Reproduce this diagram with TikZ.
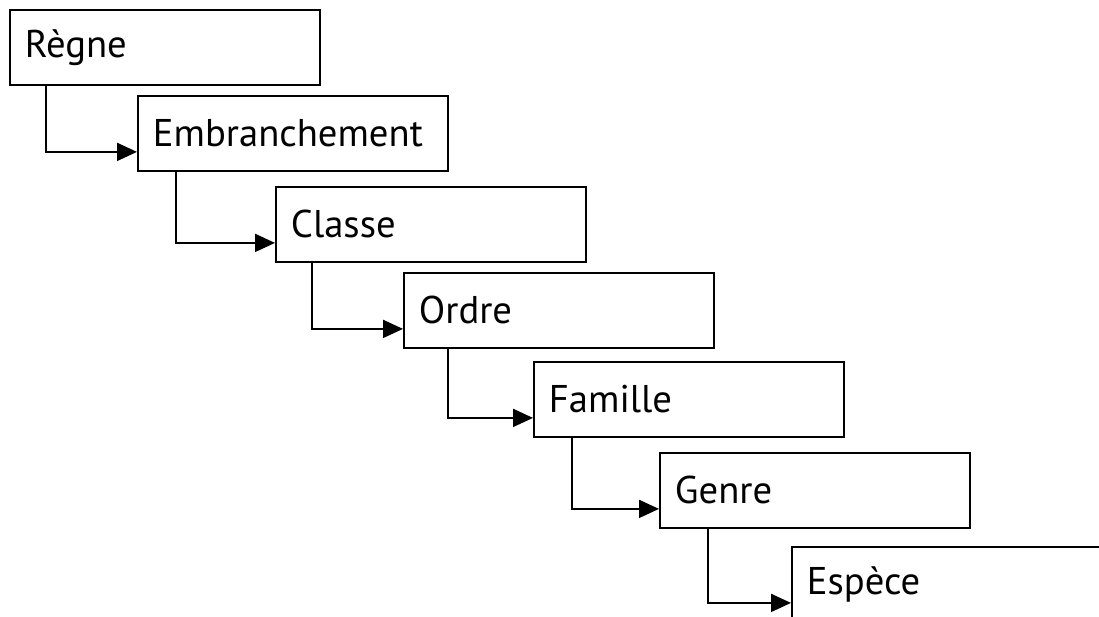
\documentclass[tikz,border=0pt]{standalone}
\usepackage{fontspec}
\setmainfont{PT Sans}
\usetikzlibrary{calc,arrows.meta}
\newcommand{\lr}{6.2cm}
\newcommand{\hr}{1.5cm}
\newcommand{\tr}{5.6cm}
\tikzstyle{rang}=[rectangle, line width=1.1pt, minimum width=\lr, minimum height=\hr, text width=\tr, inner xsep=0.3cm, align=left, draw=black, fill=white, anchor=north west, font=\fontsize{22}{26}\selectfont]
\tikzstyle{fleche}=[line width=1.1pt, -{Triangle[length=0.4cm,width=0.36cm]}]
\newcommand{\rangarrow}[3]{ \draw[fleche] ($(#1.south west)+(#3,0)$) |- ($(#2.south west)+(0,-20)$); }

\begin{document}
\begin{tikzpicture}[x=0.02cm, y=-0.02cm]
        \useasboundingbox (0,0) rectangle (1099,617);
        \clip (0,0) rectangle (1099,617);
        \foreach \n/\x/\y/\nom in {R/9/9/Règne, E/137/95/Embranchement, C/275/186/Classe, O/403/272/Ordre, F/533/361/Famille, G/659/452/Genre, S/791/546/Espèce}%
        {%
            \node[rang] (\n) at (\x,\y) {\nom};%
        }
        \foreach \a/\b/\d in {R/E/37, E/C/39, C/O/37, O/F/45, F/G/39, G/S/49}{
            \rangarrow{\a}{\b}{\d};
        }
       \end{tikzpicture}
\end{document}
